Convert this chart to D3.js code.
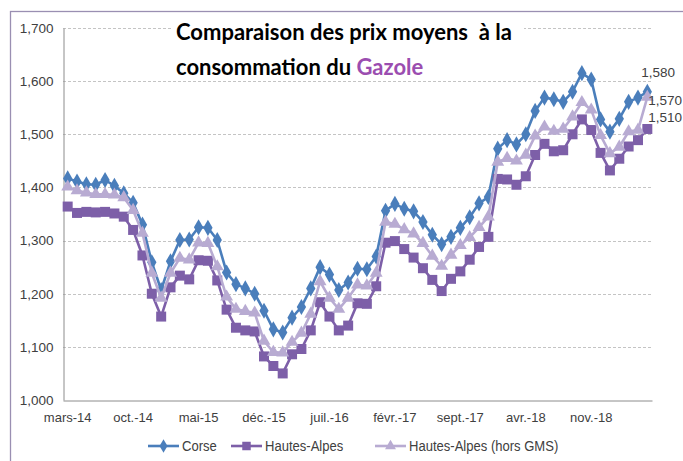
<!DOCTYPE html>
<html><head><meta charset="utf-8">
<script src="https://cdn.jsdelivr.net/npm/d3@7"></script>
<style>
html,body{margin:0;padding:0;background:#fff;}
svg{display:block;}
</style></head>
<body>
<svg id="chart" width="683" height="461"></svg>
<script>
const categories = [
"mars-14","avr.-14","mai-14","juin-14","juil.-14","août-14","sept.-14","oct.-14","nov.-14","déc.-14",
"janv.-15","févr.-15","mars-15","avr.-15","mai-15","juin-15","juil.-15","août-15","sept.-15","oct.-15","nov.-15",
"déc.-15","janv.-16","févr.-16","mars-16","avr.-16","mai-16","juin-16","juil.-16","août-16","sept.-16","oct.-16","nov.-16",
"déc.-16","janv.-17","févr.-17","mars-17","avr.-17","mai-17","juin-17","juil.-17","août-17","sept.-17","oct.-17","nov.-17",
"déc.-17","janv.-18","févr.-18","mars-18","avr.-18","mai-18","juin-18","juil.-18","août-18","sept.-18","oct.-18","nov.-18",
"déc.-18","janv.-19","févr.-19","mars-19","avr.-19","mai-19"];

const corse = [1.417,1.411,1.406,1.405,1.414,1.403,1.389,1.371,1.330,1.259,
1.207,1.261,1.301,1.302,1.325,1.324,1.301,1.240,1.218,1.210,1.200,
1.168,1.133,1.127,1.155,1.175,1.210,1.250,1.236,1.207,1.221,1.247,1.246,
1.270,1.356,1.369,1.360,1.355,1.335,1.311,1.293,1.307,1.324,1.344,1.370,
1.382,1.473,1.489,1.481,1.500,1.544,1.569,1.566,1.561,1.580,1.615,1.603,
1.528,1.505,1.529,1.561,1.569,1.580];

const hautesAlpes = [1.364,1.352,1.354,1.353,1.354,1.351,1.345,1.320,1.272,1.200,
1.157,1.212,1.234,1.227,1.263,1.262,1.225,1.170,1.136,1.131,1.129,
1.082,1.064,1.050,1.086,1.096,1.131,1.184,1.157,1.131,1.140,1.182,1.181,
1.214,1.296,1.299,1.284,1.268,1.248,1.226,1.205,1.228,1.242,1.264,1.288,
1.307,1.416,1.415,1.405,1.421,1.461,1.482,1.468,1.470,1.500,1.528,1.508,
1.465,1.432,1.454,1.477,1.489,1.510];

const horsGMS = [1.401,1.394,1.390,1.387,1.387,1.386,1.381,1.357,1.314,1.239,
1.192,1.239,1.267,1.264,1.296,1.295,1.251,1.194,1.171,1.167,1.164,
1.111,1.090,1.089,1.109,1.126,1.162,1.223,1.192,1.171,1.192,1.217,1.215,
1.239,1.335,1.331,1.321,1.313,1.295,1.271,1.252,1.273,1.291,1.306,1.325,
1.345,1.448,1.455,1.450,1.461,1.497,1.514,1.506,1.510,1.533,1.560,1.546,
1.498,1.464,1.476,1.505,1.508,1.570];

const yTicks = [1.0,1.1,1.2,1.3,1.4,1.5,1.6,1.7];
const seriesNames = ["Corse","Hautes-Alpes","Hautes-Alpes (hors GMS)"];
const titleLine1 = "Comparaison des prix moyens  à la";
const titleLine2a = "consommation du ";
const titleLine2b = "Gazole";

const series = [
  {name: seriesNames[0], values: corse, color: "#4A7EBB", shape: "diamond", label: {dx: -6, dy: -19}},
  {name: seriesNames[1], values: hautesAlpes, color: "#7D5FA8", shape: "square", label: {dx: 1, dy: -12}},
  {name: seriesNames[2], values: horsGMS, color: "#B8ABD2", shape: "triangle", label: {dx: 1, dy: 3}}
];

const svg = d3.select("#chart");
const fr = d3.formatLocale({decimal: ",", thousands: " ", grouping: [3], currency: ["", " €"]});
const fmt = fr.format(".3f");

const x = d3.scaleBand().domain(categories).range([63, 652]).padding(0);
const y = d3.scaleLinear().domain([1.0, 1.7]).range([400, 28]);
const cx = c => x(c) + x.bandwidth() / 2;

// outer frame
svg.append("rect").attr("x", 10.5).attr("y", 11.5).attr("width", 720).attr("height", 520)
  .attr("fill", "none").attr("stroke", "#9A8FB2").attr("stroke-width", 1.3);

// gridlines
svg.append("g").selectAll("line").data(yTicks.filter(t => t > 1.0)).join("line")
  .attr("x1", 63).attr("x2", 652)
  .attr("y1", d => Math.round(y(d)) + 0.5).attr("y2", d => Math.round(y(d)) + 0.5)
  .attr("stroke", "#C4C4C4").attr("stroke-width", 1).attr("stroke-dasharray", "3,2");

// y axis
const yAxis = svg.append("g").attr("transform", "translate(63.5,0)")
  .call(d3.axisLeft(y).tickValues(yTicks).tickFormat(fmt).tickSize(0).tickPadding(10));
yAxis.select(".domain").attr("stroke", "#8C8C8C");
yAxis.selectAll("text").attr("font-family", "'Liberation Sans', Arial, sans-serif")
  .attr("font-size", 13.5).attr("fill", "#404040");

// x axis
const xAxis = svg.append("g").attr("transform", "translate(0,400.5)")
  .call(d3.axisBottom(x).tickValues(categories.filter((c, i) => i % 7 === 0)).tickSize(0).tickPadding(12));
xAxis.select(".domain").attr("stroke", "#8C8C8C");
xAxis.selectAll("text").attr("font-family", "'Liberation Sans', Arial, sans-serif")
  .attr("font-size", 13).attr("fill", "#404040");

function markerPath(shape, s) {
  if (shape === "diamond") return d3.symbol(d3.symbolDiamond, s * s * 0.62)();
  if (shape === "square") return d3.symbol(d3.symbolSquare, s * s)();
  return d3.symbol(d3.symbolTriangle, s * s * 0.5)();
}
const markerSize = {diamond: 11, square: 10, triangle: 12};

const line = d3.line().x((d, i) => cx(categories[i])).y(d => y(d));

series.forEach(s => {
  const g = svg.append("g");
  g.append("path").datum(s.values).attr("d", line)
    .attr("fill", "none").attr("stroke", s.color).attr("stroke-width", 2.6).attr("stroke-linejoin", "round");
  g.selectAll("path.m").data(s.values).join("path").attr("class", "m")
    .attr("transform", (d, i) => `translate(${cx(categories[i])},${y(d)})`)
    .attr("d", markerPath(s.shape, markerSize[s.shape]))
    .attr("fill", s.color);
});

// data labels on last point
series.forEach(s => {
  const n = s.values.length - 1;
  svg.append("text")
    .attr("x", cx(categories[n]) + s.label.dx)
    .attr("y", y(s.values[n]) + s.label.dy)
    .attr("dy", "0.35em")
    .attr("font-family", "'Liberation Sans', Arial, sans-serif")
    .attr("font-size", 13.5).attr("fill", "#404040")
    .text(fmt(s.values[n]));
});

// title
const tg = svg.append("g");
tg.append("rect").attr("x", 172).attr("y", 19).attr("width", 352).attr("height", 58).attr("fill", "#fff");
const tf = "Lato, 'Open Sans', sans-serif";
tg.append("text").attr("x", 176).attr("y", 40).attr("font-family", tf).attr("font-weight", 700)
  .attr("font-size", 22).attr("fill", "#000").style("white-space", "pre").text(titleLine1);
const t2 = tg.append("text").attr("x", 176).attr("y", 75).attr("font-family", tf).attr("font-weight", 700)
  .attr("font-size", 22).attr("fill", "#000").style("white-space", "pre");
t2.append("tspan").text(titleLine2a);
t2.append("tspan").attr("fill", "#9B4DB0").text(titleLine2b);

// legend
const legendX = [148, 231, 375];
const lg = svg.append("g").attr("transform", "translate(0,446)");
series.forEach((s, i) => {
  const g = lg.append("g").attr("transform", `translate(${legendX[i]},0)`);
  g.append("line").attr("x1", 0).attr("x2", 31).attr("y1", 0).attr("y2", 0)
    .attr("stroke", s.color).attr("stroke-width", 2.6);
  g.append("path").attr("transform", "translate(15.5,0)").attr("d", markerPath(s.shape, markerSize[s.shape] * 0.85)).attr("fill", s.color);
  g.append("text").attr("transform", "translate(34,0) scale(0.87,1)").attr("dy", "0.35em")
    .attr("font-family", "'Liberation Sans', Arial, sans-serif")
    .attr("font-size", 15).attr("fill", "#404040").text(s.name);
});
</script>
</body></html>
